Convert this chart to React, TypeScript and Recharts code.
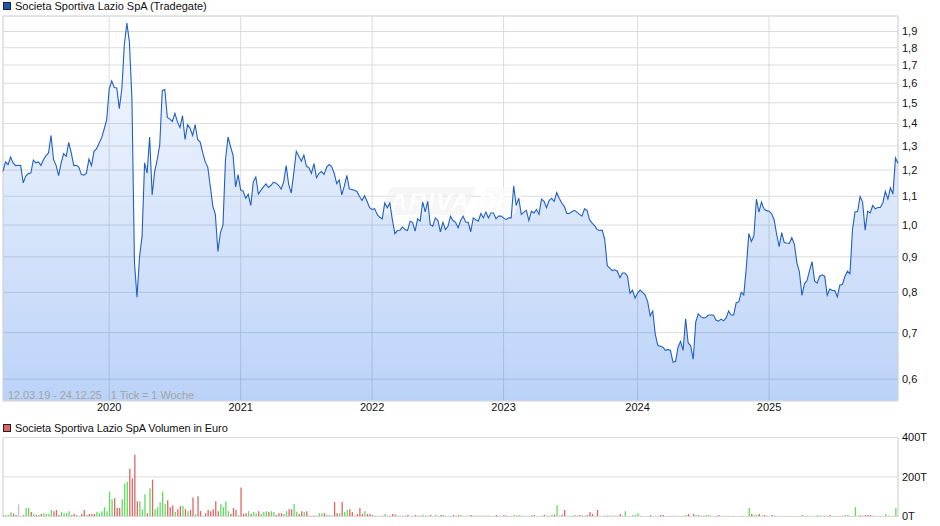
import React from "react";
import { AreaChart, Area, BarChart, Bar, Cell, XAxis, YAxis, CartesianGrid, ReferenceLine } from "recharts";

const TITLE_PRICE = "Societa Sportiva Lazio SpA (Tradegate)";
const TITLE_VOLUME = "Societa Sportiva Lazio SpA Volumen in Euro";
const RANGE_NOTE = "12.03.19 - 24.12.25   1 Tick = 1 Woche";
const WATERMARK = "ARIVA.DE";

const yearLabels = ["2020", "2021", "2022", "2023", "2024", "2025"];
const yearWeeks = [42, 94, 146, 198, 251, 303];
const priceTicks = [0.6, 0.7, 0.8, 0.9, 1.0, 1.1, 1.2, 1.3, 1.4, 1.5, 1.6, 1.7, 1.8, 1.9];
const volumeTicks = [0, 200, 400];

const prices = [
  1.195, 1.233, 1.222, 1.253, 1.229, 1.218, 1.219, 1.218, 1.15, 1.176,
  1.186, 1.188, 1.24, 1.229, 1.233, 1.219, 1.242, 1.259, 1.27, 1.346,
  1.242, 1.219, 1.178, 1.229, 1.267, 1.256, 1.315, 1.27, 1.218, 1.219,
  1.212, 1.182, 1.18, 1.188, 1.245, 1.218, 1.277, 1.288, 1.312, 1.335,
  1.374, 1.417, 1.57, 1.613, 1.578, 1.575, 1.471, 1.57, 1.82, 1.953,
  1.834, 1.517, 0.883, 0.787, 0.9, 0.963, 1.229, 1.188, 1.339, 1.105,
  1.195, 1.242, 1.305, 1.563, 1.567, 1.429, 1.421, 1.41, 1.448, 1.408,
  1.382, 1.437, 1.328, 1.395, 1.378, 1.346, 1.395, 1.328, 1.317, 1.27,
  1.233, 1.211, 1.137, 1.064, 1.036, 0.916, 0.975, 1.0, 1.242, 1.339,
  1.297, 1.26, 1.135, 1.182, 1.124, 1.118, 1.093, 1.108, 1.067, 1.154,
  1.173, 1.108, 1.122, 1.135, 1.146, 1.133, 1.141, 1.153, 1.149, 1.141,
  1.127, 1.153, 1.218, 1.144, 1.112, 1.188, 1.277, 1.256, 1.236, 1.261,
  1.216, 1.209, 1.187, 1.226, 1.17, 1.187, 1.194, 1.183, 1.212, 1.222,
  1.214, 1.187, 1.147, 1.161, 1.105, 1.138, 1.179, 1.127, 1.125, 1.122,
  1.118, 1.099, 1.085, 1.102, 1.082, 1.059, 1.053, 1.056, 1.036, 1.026,
  1.021, 1.076, 1.059, 1.076, 1.018, 0.972, 0.982, 0.983, 0.993, 0.985,
  0.982, 1.013, 1.009, 0.98, 1.021, 1.013, 1.079, 1.045, 1.082, 1.001,
  0.996, 1.024, 1.016, 0.978, 1.009, 0.985, 0.996, 1.03, 1.015, 1.009,
  0.991, 1.015, 1.03, 1.01, 1.009, 0.978, 1.024, 1.018, 1.013, 1.039,
  1.024, 1.044, 1.024, 1.041, 1.041, 1.021, 1.03, 1.03, 1.024, 1.018,
  1.024, 1.024, 1.138, 1.067, 1.093, 1.036, 1.044, 1.05, 1.015, 1.047,
  1.041, 1.053, 1.036, 1.09, 1.082, 1.059, 1.085, 1.093, 1.082, 1.114,
  1.093, 1.076, 1.064, 1.039, 1.039, 1.045, 1.05, 1.044, 1.036, 1.03,
  1.055, 1.05, 1.018, 1.006, 0.998, 0.985, 0.982, 0.983, 0.954, 0.874,
  0.867, 0.86, 0.862, 0.858, 0.84, 0.853, 0.853, 0.844, 0.798, 0.806,
  0.785, 0.798, 0.806, 0.8, 0.793, 0.775, 0.74, 0.752, 0.696, 0.671,
  0.669, 0.667, 0.66, 0.662, 0.66, 0.635, 0.636, 0.667, 0.68, 0.66,
  0.733, 0.677, 0.67, 0.641, 0.725, 0.745, 0.738, 0.735, 0.736, 0.742,
  0.742, 0.742, 0.73, 0.727, 0.732, 0.728, 0.735, 0.752, 0.742, 0.742,
  0.773, 0.775, 0.8, 0.793, 0.869, 0.972, 0.947, 0.965, 1.09, 1.044,
  1.079, 1.055, 1.049, 1.047, 1.039, 1.018, 0.97, 0.931, 0.975, 0.944,
  0.942, 0.941, 0.959, 0.939, 0.883, 0.856, 0.792, 0.823, 0.832, 0.86,
  0.886, 0.831, 0.825, 0.844, 0.848, 0.844, 0.792, 0.809, 0.805, 0.805,
  0.788, 0.82, 0.821, 0.843, 0.858, 0.851, 0.985, 1.045, 1.045, 1.099,
  1.079, 0.983, 1.047, 1.041, 1.067, 1.055, 1.06, 1.06, 1.076, 1.118,
  1.09, 1.131, 1.108, 1.249, 1.227,
];

const volumes = [
  6, 6, 6, 20, 14, 6, 60, 2, 6, 42,
  42, 22, 12, 6, 6, 12, 16, 12, 12, 32,
  26, 32, 6, 22, 16, 16, 26, 6, 12, 6,
  2, 12, 32, 6, 12, 12, 12, 22, 16, 26,
  46, 26, 126, 86, 92, 42, 42, 86, 166, 176,
  242, 192, 312, 76, 76, 36, 112, 16, 142, 186,
  36, 46, 72, 126, 62, 82, 46, 56, 22, 36,
  52, 52, 36, 26, 32, 96, 12, 102, 26, 2,
  16, 32, 26, 36, 76, 26, 62, 46, 76, 26,
  12, 42, 32, 6, 146, 12, 16, 26, 12, 22,
  16, 26, 12, 22, 26, 22, 26, 22, 6, 16,
  16, 12, 26, 36, 36, 62, 22, 12, 26, 22,
  26, 3, 3, 3, 3, 16, 16, 16, 6, 6,
  3, 72, 16, 16, 72, 22, 32, 36, 22, 3,
  12, 42, 12, 26, 12, 12, 6, 3, 2, 2,
  3, 12, 3, 3, 12, 8, 3, 3, 3, 3,
  8, 1, 1, 6, 3, 3, 8, 3, 3, 6,
  1, 6, 1, 6, 6, 3, 1, 1, 6, 3,
  6, 6, 1, 3, 3, 6, 3, 3, 3, 3,
  3, 3, 3, 1, 1, 6, 1, 1, 6, 3,
  1, 1, 6, 3, 6, 3, 3, 1, 1, 6,
  6, 1, 1, 3, 8, 3, 3, 6, 8, 56,
  3, 8, 32, 1, 1, 1, 6, 3, 6, 3,
  1, 6, 22, 12, 1, 32, 1, 1, 3, 3,
  3, 3, 3, 3, 12, 3, 26, 1, 1, 6,
  6, 16, 2, 1, 1, 1, 6, 1, 2, 2,
  6, 6, 1, 1, 2, 2, 1, 2, 1, 2,
  6, 12, 1, 12, 6, 6, 3, 3, 6, 6,
  1, 1, 2, 6, 2, 2, 2, 1, 1, 1,
  1, 1, 2, 2, 2, 42, 12, 6, 6, 12,
  3, 6, 3, 1, 6, 3, 1, 1, 1, 1,
  2, 2, 1, 2, 2, 2, 6, 2, 2, 2,
  2, 1, 6, 3, 2, 2, 2, 6, 2, 2,
  2, 2, 3, 6, 6, 2, 2, 46, 3, 6,
  3, 6, 6, 6, 3, 2, 2, 2, 2, 12,
  3, 2, 2, 42, 3,
];

const volumeSides = [
  "rgggrrnrrg", "grgrgrgggg", "rrrggggrrg", "rrrgrrrggg", "ggggrrrggg",
  "rrrrgggrgr", "gggggrrrgr", "rgrgrrgrrr", "rrrrrrgggg", "rrrgrrrgrg",
  "grgggrggrr", "rggrrggrrg", "rrrrrggrgg", "rrrgrggrrr", "rrrgrrrggr",
  "rgrrrrgggr", "rnnrgrgrgr", "gggrgrggrr", "rggggrgrrg", "rgrggrgrrr",
  "rggrgrggrg", "rrggrrggrg", "rrrnnrgrrr", "rrrrrrrrrr", "rrgrrrgrgg",
  "ggrrggrgrr", "rrgrrrggrr", "grgrggrrgg", "rgrrgrgrgr", "grrgrgrggr",
  "grrnrrgrgr", "grgrgrggrg", "rggrgrrrgr", "rgrggrrgrg", "rrrrrgrrgg",
  "rgrgr",
].join("");

const GREEN = "#5fdc5f";
const RED = "#e06464";
const GRAY = "#c0c0c0";
const GRID = "#dcdcdc";
const FONT = "'Liberation Sans', Arial, sans-serif";

const priceData = prices.map((price, week) => ({ week, price }));
const volumeData = volumes.map((volume, week) => ({ week, volume }));

const tickStyle = { fontSize: 11, fill: "#111", fontFamily: FONT };

function Legend({ top, color, text, spacing }: { top: number; color: string; text: string; spacing: number }) {
  return (
    <>
      <div style={{ position: "absolute", left: 3, top, width: 6, height: 6, background: color, border: "1px solid #222" }} />
      <div style={{ position: "absolute", left: 15, top: top - 3, fontFamily: FONT, fontSize: 11, lineHeight: "14px", color: "#111", whiteSpace: "nowrap", letterSpacing: spacing }}>{text}</div>
    </>
  );
}

const layer: React.CSSProperties = { position: "absolute", left: 0, top: 0 };

export default function App() {
  return (
    <div style={{ position: "absolute", left: 0, top: 0, width: 940, height: 526, background: "#fff", overflow: "hidden" }}>
      <div style={layer}>
        <AreaChart width={940} height={420} data={priceData} margin={{ top: 16, right: 0, bottom: 0, left: 3 }}>
          <defs>
            <linearGradient id="priceFill" x1="0" y1="0" x2="0" y2="1">
              <stop offset="0%" stopColor="#1464e6" stopOpacity={0.03} />
              <stop offset="100%" stopColor="#1464e6" stopOpacity={0.29} />
            </linearGradient>
          </defs>
          <CartesianGrid stroke={GRID} strokeWidth={1} />
          <ReferenceLine y={2.0} stroke={GRID} />
          <ReferenceLine x={0} stroke={GRID} />
          <ReferenceLine x={354} stroke={GRID} />
          <XAxis
            dataKey="week"
            type="number"
            domain={[0, 354]}
            ticks={yearWeeks}
            tickFormatter={(w: number) => yearLabels[yearWeeks.indexOf(w)]}
            tick={tickStyle}
            tickLine={false}
            tickSize={0}
            axisLine={{ stroke: "#e4e4e4" }}
            height={19}
            tickMargin={2}
            interval={0}
          />
          <YAxis
            orientation="right"
            scale="log"
            domain={[0.558, 2.0]}
            allowDataOverflow
            ticks={priceTicks}
            tickFormatter={(v: number) => v.toFixed(1).replace(".", ",")}
            tick={{ ...tickStyle, textAnchor: "start" }}
            tickLine={false}
            tickSize={0}
            axisLine={false}
            width={42}
            tickMargin={4}
            interval={0}
          />
          <Area
            dataKey="price"
            type="linear"
            stroke="none"
            fill="url(#priceFill)"
            fillOpacity={1}
            baseValue={0.558}
            dot={false}
            activeDot={false}
            isAnimationActive={false}
          />
        </AreaChart>
      </div>

      <svg width={940} height={526} style={{ ...layer, pointerEvents: "none" }}>
        <path d="M394 187 H476 L464 215 H383 Q379 215 381 210 L388 192 Q390 187 394 187 Z" fill="#f0f0f0" fillOpacity={0.62} />
        <path d="M486 187 H521 Q526 187 524 191 L514 215 H472 Z" fill="#fafafa" fillOpacity={0.72} />
        <text x={390} y={210} fontFamily={FONT} fontStyle="italic" fontWeight="bold" fontSize={24} fill="#ffffff" fillOpacity={0.9} textLength={123}>{WATERMARK}</text>
      </svg>

      <div style={layer}>
        <AreaChart width={940} height={420} data={priceData} margin={{ top: 16, right: 0, bottom: 0, left: 3 }}>
          <XAxis dataKey="week" type="number" domain={[0, 354]} ticks={yearWeeks} tick={false} tickLine={false} axisLine={false} height={19} />
          <YAxis orientation="right" scale="log" domain={[0.558, 2.0]} allowDataOverflow ticks={priceTicks} tick={false} tickLine={false} axisLine={false} width={42} />
          <Area
            dataKey="price"
            type="linear"
            stroke="#2060c4"
            strokeWidth={1.1}
            fill="none"
            baseValue={0.558}
            dot={false}
            activeDot={false}
            isAnimationActive={false}
          />
        </AreaChart>
      </div>

      <div style={layer}>
        <BarChart width={940} height={526} data={volumeData} margin={{ top: 437.5, right: 0, bottom: 9.7, left: 3 }}>
          <CartesianGrid stroke={GRID} strokeWidth={1} />
          <ReferenceLine x={0} stroke={GRID} />
          <ReferenceLine x={354} stroke={GRID} />
          <XAxis dataKey="week" type="number" domain={[0, 354]} ticks={yearWeeks} height={0} tick={false} tickLine={false} axisLine={false} />
          <YAxis
            orientation="right"
            domain={[0, 400]}
            ticks={volumeTicks}
            tickFormatter={(v: number) => `${v}T`}
            tick={{ ...tickStyle, textAnchor: "start" }}
            tickLine={false}
            tickSize={0}
            axisLine={false}
            width={42}
            tickMargin={4}
            interval={0}
          />
          <Bar dataKey="volume" barSize={1.3} isAnimationActive={false}>
            {volumes.map((_, i) => {
              const side = volumeSides[i];
              return <Cell key={i} fill={side === "n" ? GRAY : side === "g" ? GREEN : RED} />;
            })}
          </Bar>
        </BarChart>
      </div>

      <Legend top={2} color="#1c56b4" text={TITLE_PRICE} spacing={-0.03} />
      <Legend top={424} color="#e06464" text={TITLE_VOLUME} spacing={-0.09} />

      <div style={{ position: "absolute", left: 8, top: 388, fontFamily: FONT, fontSize: 11, lineHeight: "14px", color: "#a3a3a3", whiteSpace: "pre", letterSpacing: -0.08 }}>{RANGE_NOTE}</div>
    </div>
  );
}
